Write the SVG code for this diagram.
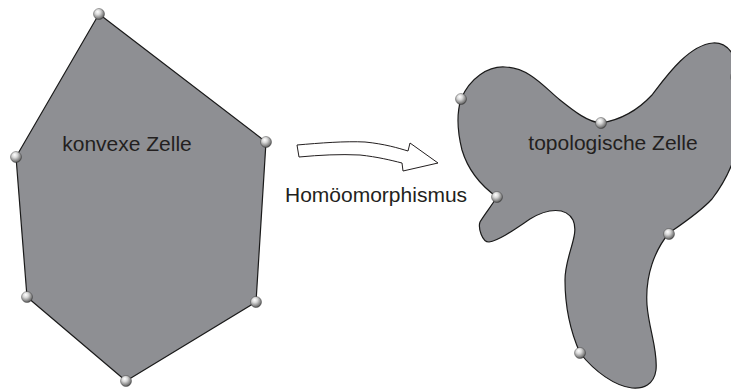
<svg xmlns="http://www.w3.org/2000/svg" width="731" height="389" viewBox="0 0 731 389">
  <defs>
    <radialGradient id="ball" cx="0.4" cy="0.35" r="0.7" fx="0.38" fy="0.3">
      <stop offset="0" stop-color="#ffffff"/>
      <stop offset="0.35" stop-color="#d8d8d8"/>
      <stop offset="0.8" stop-color="#7a7a7a"/>
      <stop offset="1" stop-color="#3a3a3a"/>
    </radialGradient>
  </defs>
  <style>
    .cell { fill: #8e8f93; stroke: #1a1a1a; stroke-width: 1.2; stroke-linejoin: round; }
    .ball { fill: url(#ball); stroke: #333; stroke-width: 0.4; }
    .lbl { font-family: "Liberation Sans", Arial, sans-serif; font-size: 21px; fill: #231f20; }
    .arrow { fill: #ffffff; stroke: #231f20; stroke-width: 1; stroke-linejoin: miter; }
  </style>
  <rect width="731" height="389" fill="#ffffff"/>

  <g id="convex-cell">
    <polygon class="cell" points="99,14 266,142 256,302 126,381 27,297 16,157"/>
    <text class="lbl" x="127" y="151" text-anchor="middle">konvexe Zelle</text>
    <circle class="ball" cx="99" cy="14" r="5.5"/>
    <circle class="ball" cx="266" cy="142" r="5.5"/>
    <circle class="ball" cx="256" cy="302" r="5.5"/>
    <circle class="ball" cx="126" cy="381" r="5.5"/>
    <circle class="ball" cx="27" cy="297" r="5.5"/>
    <circle class="ball" cx="16" cy="157" r="5.5"/>
  </g>

  <g id="connectors">
    <g id="homeomorphism-arrow">
      <path class="arrow" d="M297,145 C320,143 345,141 365,142 C385,144 398,148 408,151 L410,143 L438,163 L403,171 L402,163 C390,160 378,157 360,155 C340,154 320,155 299,157 Z"/>
      <text class="lbl" x="285" y="202">Homöomorphismus</text>
    </g>
  </g>

  <g id="topological-cell">
    <path class="cell" d="M461,99 C470,78 488,66 505,67 C530,68 545,88 560,100 C575,112 588,122 601,123 C620,120 638,110 652,95 C665,78 688,45 713,43 C730,42 740,60 742,90 C744,130 738,165 712,199 C700,212 685,222 669,233 C655,250 645,275 647,305 C649,330 658,350 656,370 C654,385 643,389 632,388 C615,386 595,372 580,353 C572,335 565,310 565,280 C565,255 580,235 573,220 C566,207 548,208 530,219 C515,229 500,240 489,242 C482,242 478,228 480,222 C484,215 492,205 497,197 C480,185 468,170 462,150 C457,130 457,112 461,99 Z"/>
    <text class="lbl" x="613" y="150" text-anchor="middle">topologische Zelle</text>
    <circle class="ball" cx="461" cy="99" r="5.5"/>
    <circle class="ball" cx="601" cy="123" r="5.5"/>
    <circle class="ball" cx="736" cy="77" r="5.5"/>
    <circle class="ball" cx="497" cy="197" r="5.5"/>
    <circle class="ball" cx="669" cy="234" r="5.5"/>
    <circle class="ball" cx="580" cy="353" r="5.5"/>
  </g>
</svg>
